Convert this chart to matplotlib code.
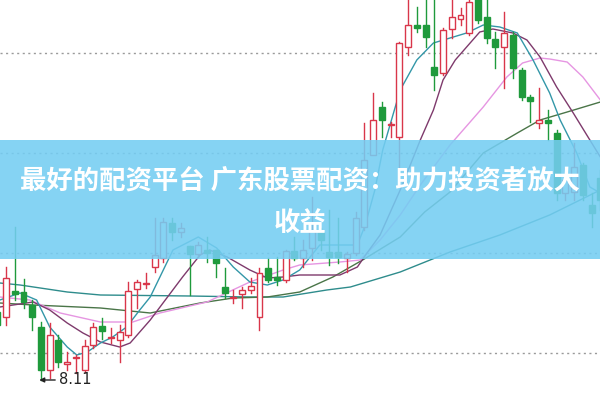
import matplotlib
matplotlib.use('Agg')
import matplotlib.pyplot as plt
from matplotlib.patches import Rectangle

plt.rcParams['font.family'] = ['Noto Sans CJK SC', 'DejaVu Sans']

# daily candles, left to right
opens = [8.79, 8.74, 9.00, 8.99, 8.86, 8.64, 8.21, 8.51, 8.27, 8.33,
         8.21, 8.46, 8.65, 8.53, 8.51, 8.56, 9.02, 9.07, 9.24, 9.33,
         9.68, 9.59, 9.45, 9.37, 9.41, 9.41, 9.04, 8.93, 8.97, 9.01,
         8.74, 9.23, 9.14, 9.11, 9.40, 9.33, 9.43, 9.59, 9.39, 9.39,
         9.33, 9.38, 9.64, 10.36, 10.84, 10.66, 10.54, 11.44, 11.66, 11.66,
         11.24, 11.18, 11.62, 11.72, 11.58, 11.96, 11.74, 11.52, 11.44, 11.56,
         11.21, 10.94, 10.68, 10.71, 10.58, 9.98, 9.99, 10.26, 9.86, 10.13]
highs = [8.86, 9.24, 9.64, 9.12, 8.91, 8.69, 8.68, 8.56, 8.39, 8.36,
         8.51, 8.68, 8.73, 8.63, 8.66, 9.09, 9.11, 9.18, 9.73, 9.73,
         9.73, 9.68, 9.45, 9.49, 9.54, 9.41, 9.23, 9.01, 9.04, 9.13,
         9.23, 9.33, 9.34, 9.41, 9.54, 9.51, 9.94, 9.63, 9.81, 9.73,
         9.39, 9.79, 10.68, 10.98, 10.89, 10.69, 11.49, 11.96, 11.84, 11.96,
         11.96, 11.63, 11.96, 11.83, 11.96, 12.01, 11.96, 11.59, 11.79, 11.59,
         11.23, 10.96, 11.03, 10.81, 10.61, 10.23, 10.48, 10.28, 9.98, 10.21]
lows = [8.61, 8.66, 8.91, 8.83, 8.61, 8.11, 8.13, 8.24, 8.21, 8.18,
        8.19, 8.43, 8.52, 8.48, 8.29, 8.54, 8.83, 9.03, 9.19, 9.29,
        9.51, 9.54, 8.96, 9.34, 9.29, 9.14, 8.93, 8.88, 8.83, 8.98,
        8.61, 9.09, 9.06, 9.09, 9.31, 9.24, 9.31, 9.41, 9.26, 9.28,
        9.19, 9.36, 9.61, 10.36, 10.54, 10.54, 10.24, 11.36, 11.59, 11.44,
        11.01, 11.16, 11.53, 11.66, 11.56, 11.68, 11.48, 11.23, 11.03, 11.13,
        10.91, 10.69, 10.63, 10.51, 9.91, 9.91, 9.91, 9.91, 9.64, 9.81]
closes = [8.66, 9.13, 8.97, 8.89, 8.74, 8.21, 8.56, 8.29, 8.29, 8.34,
          8.45, 8.64, 8.60, 8.54, 8.59, 9.00, 9.09, 9.08, 9.36, 9.69,
          9.59, 9.63, 9.37, 9.46, 9.38, 9.28, 8.98, 8.94, 9.01, 9.05,
          9.18, 9.11, 9.11, 9.40, 9.33, 9.41, 9.61, 9.51, 9.34, 9.34,
          9.37, 9.73, 10.31, 10.71, 10.71, 10.67, 11.48, 11.66, 11.63, 11.54,
          11.16, 11.61, 11.74, 11.76, 11.89, 11.71, 11.53, 11.44, 11.58, 11.23,
          10.94, 10.90, 10.71, 10.68, 9.98, 10.11, 10.24, 9.96, 9.78, 9.91]

# moving average lines, read at day positions
ma5_x = [0.3, 2.6, 4.5, 6.0, 8.0, 9.1, 10.3, 11.8, 13.2, 14.8, 16.3, 17.5, 20.1,
         23.0, 25.1, 27.0, 28.9, 30.9, 32.7, 34.6, 36.9, 41.2, 42.1, 43.2, 44.1,
         46.1, 48.0, 49.9, 51.8, 53.7, 55.6, 57.5, 59.5, 61.3, 63.2, 64.4, 66.3,
         67.8, 69.0]
ma5_y = [8.91, 8.98, 8.91, 8.64, 8.44, 8.36, 8.39, 8.48, 8.54, 8.64, 8.81, 8.94, 9.41,
         9.54, 9.43, 9.24, 9.09, 9.06, 9.11, 9.21, 9.46, 9.46, 9.66, 10.01, 10.41,
         11.01, 11.31, 11.48, 11.53, 11.58, 11.66, 11.64, 11.58, 11.31, 10.98, 10.71, 10.38,
         10.04, 9.98]
ma10_x = [0.3, 4.1, 6.0, 8.0, 9.8, 11.8, 14.0, 15.2, 17.5, 21.2, 23.2, 24.3, 26.3,
          28.9, 30.9, 32.7, 34.6, 39.2, 41.2, 42.3, 43.8, 46.1, 48.4, 49.9, 51.0,
          52.4, 53.7, 55.2, 56.7, 59.0, 60.6, 62.1, 64.0, 65.9, 67.8, 69.0]
ma10_y = [8.84, 8.89, 8.81, 8.68, 8.58, 8.49, 8.44, 8.48, 8.71, 9.14, 9.36, 9.41, 9.34,
          9.21, 9.13, 9.14, 9.16, 9.16, 9.24, 9.38, 9.56, 10.01, 10.51, 10.81, 11.11,
          11.31, 11.44, 11.59, 11.62, 11.58, 11.51, 11.34, 11.04, 10.78, 10.51, 10.34]
ma20_x = [0.3, 3.7, 7.2, 11.8, 15.5, 18.6, 24.0, 28.9, 32.7, 34.6, 39.2, 41.5,
          43.8, 46.1, 48.4, 51.8, 55.6, 58.3, 60.1, 62.1, 63.2, 65.2, 67.0, 69.0]
ma20_y = [8.94, 8.91, 8.78, 8.69, 8.69, 8.78, 8.89, 9.09, 9.21, 9.26, 9.29, 9.31,
          9.51, 9.76, 10.06, 10.46, 10.84, 11.14, 11.28, 11.33, 11.32, 11.29, 11.14, 10.91]
ma30_x = [0.3, 4.1, 11.8, 17.5, 23.2, 27.0, 30.9, 34.6, 38.4, 41.8, 46.1, 48.9,
          51.8, 55.6, 59.5, 62.1, 65.2, 69.0]
ma30_y = [8.88, 8.86, 8.83, 8.78, 8.88, 8.93, 8.94, 8.99, 9.14, 9.31, 9.54, 9.79,
          9.99, 10.38, 10.58, 10.71, 10.79, 10.89]
ma60_x = [0.3, 2.6, 8.0, 11.8, 22.0, 28.9, 32.7, 37.7, 40.4, 46.1, 51.8, 57.5, 63.2, 69.0]
ma60_y = [9.08, 9.06, 8.99, 8.96, 8.95, 8.94, 8.94, 9.01, 9.04, 9.19, 9.39, 9.56, 9.76, 10.01]

grid_levels = [11.38, 10.38, 9.38, 8.38]
low_day = 5
low_price = 8.11
title_1 = '最好的配资平台 广东股票配资：助力投资者放大'
title_2 = '收益'

UP = '#d9364a'
DOWN = '#1f9a3c'

fig = plt.figure(figsize=(6, 4), dpi=100)
ax = fig.add_axes([0, 0, 1, 1])
ax.set_xlim(0.31, 68.96)
ax.set_ylim(7.91, 11.91)
ax.axis('off')

for g in grid_levels:
    ax.axhline(g, color='#9a9a9a', lw=1, ls=(0, (1.5, 2.5)), zorder=1)

w = 0.68
for i, (o, h, l, c) in enumerate(zip(opens, highs, lows, closes)):
    top, bot = max(o, c), min(o, c)
    if c >= o:
        ax.plot([i, i], [top, h], color=UP, lw=1, zorder=3)
        ax.plot([i, i], [l, bot], color=UP, lw=1, zorder=3)
        ax.add_patch(Rectangle((i - w / 2, bot), w, max(top - bot, 0.008),
                               facecolor='white', edgecolor=UP, lw=1, zorder=3))
    else:
        ax.plot([i, i], [l, h], color=DOWN, lw=1, zorder=3)
        ax.add_patch(Rectangle((i - w / 2, bot), w, max(top - bot, 0.015),
                               facecolor=DOWN, edgecolor=DOWN, lw=1, zorder=3))

ax.plot(ma60_x, ma60_y, color='#2e8c8c', lw=1, zorder=2)
ax.plot(ma30_x, ma30_y, color='#4a7548', lw=1, zorder=2)
ax.plot(ma20_x, ma20_y, color='#e696e2', lw=1, zorder=2)
ax.plot(ma10_x, ma10_y, color='#7e3a6c', lw=1, zorder=2)
ax.plot(ma5_x, ma5_y, color='#3397a8', lw=1, zorder=2)

ax.annotate('8.11', xy=(low_day - 0.2, low_price), xytext=(low_day + 2.1, low_price),
            fontsize=10.5, color='#222222', va='center', ha='left',
            family=['DejaVu Sans'],
            arrowprops=dict(arrowstyle='-|>', color='#222222', lw=1,
                            mutation_scale=7, shrinkA=1, shrinkB=0))

# banner overlay
ax.axhspan(9.32, 10.51, color='#74cdf2', alpha=0.88, lw=0, zorder=5)
ax.text(34.6, 10.09, title_1, ha='center', va='center', fontsize=19,
        fontweight='bold', color='white', zorder=6)
ax.text(34.6, 9.68, title_2, ha='center', va='center', fontsize=19,
        fontweight='bold', color='white', zorder=6)

fig.savefig('out.png', dpi=100)
